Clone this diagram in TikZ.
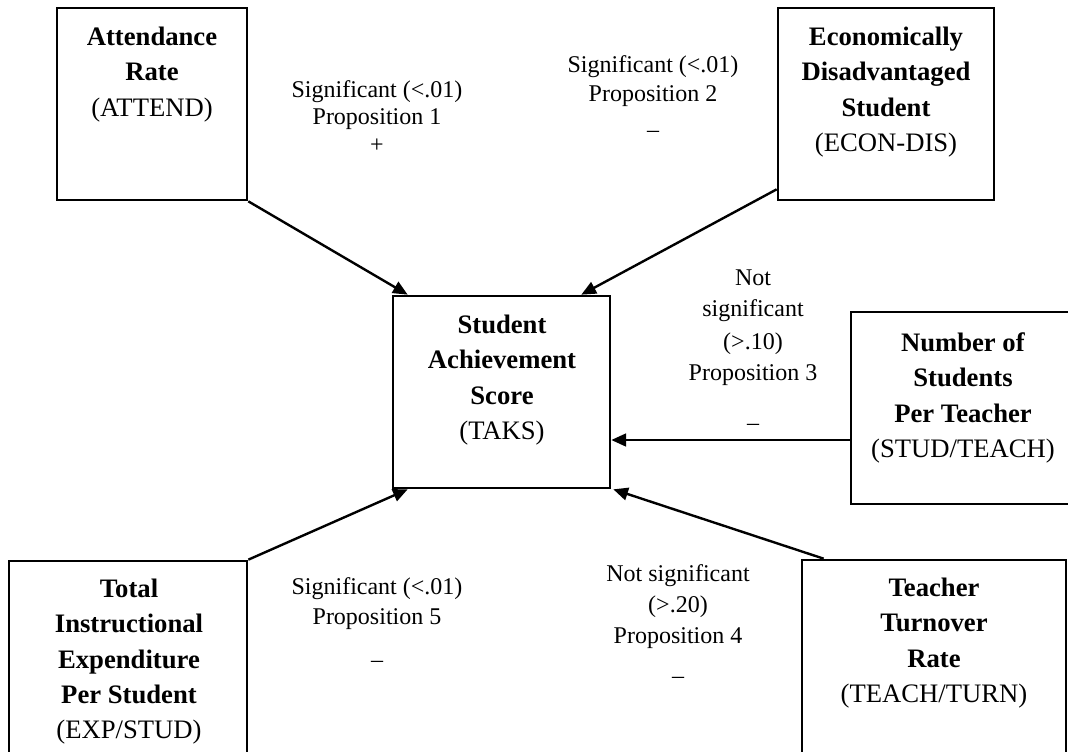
\documentclass[tikz,border=0pt]{standalone}
\usepackage{fontspec}
\setmainfont{Liberation Serif}
\usetikzlibrary{arrows.meta,fit,calc}
\begin{document}
\begin{tikzpicture}[x=0.75pt,y=-0.75pt,
  box/.style={draw, line width=2pt, inner sep=0pt},
  btxt/.style={anchor=north, align=center, inner sep=0pt, font=\fontsize{20}{26.6}\selectfont},
  lbl/.style={anchor=north, align=center, inner sep=0pt, font=\fontsize{18}{22.5}\selectfont},
  arr/.style={line width=1.8pt, -{Triangle[length=11pt,width=9.5pt]}}]
\useasboundingbox (0,0) rectangle (1068,751);
\clip (0,0) rectangle (1068,751);
% boxes
\node[box, fit={(57,8) (247,200)}] (A) {};
\node[box, fit={(778,8) (994,200)}] (E) {};
\node[box, fit={(393,296) (610,488)}] (C) {};
\node[box, fit={(851,312) (1076,504)}] (N) {};
\node[box, fit={(9,561) (247,762)}] (X) {};
\node[box, fit={(802,560) (1066,762)}] (T) {};
% box texts
\node[btxt] (At) at (152,20) {\strut\textbf{Attendance}\\\textbf{Rate}\\(ATTEND)};
\node[btxt] (Et) at (886,20) {\strut\textbf{Economically}\\\textbf{Disadvantaged}\\\textbf{Student}\\(ECON-DIS)};
\node[btxt] (Ct) at (502,308) {\strut\textbf{Student}\\\textbf{Achievement}\\\textbf{Score}\\(TAKS)};
\node[btxt] (Nt) at (963,326) {\strut\textbf{Number of}\\\textbf{Students}\\\textbf{Per Teacher}\\(STUD/TEACH)};
\node[btxt] (Xt) at (129,572) {\strut\textbf{Total}\\\textbf{Instructional}\\\textbf{Expenditure}\\\textbf{Per Student}\\(EXP/STUD)};
\node[btxt] (Tt) at (934,571) {\strut\textbf{Teacher}\\\textbf{Turnover}\\\textbf{Rate}\\(TEACH/TURN)};
% labels
\node[lbl] (L1) at (377,76) {\strut Significant (<.01)\\[-2.25pt]Proposition 1\\[-1.5pt]+};
\node[lbl] (L2) at (653,51) {\strut Significant (<.01)\\[-0.75pt]Proposition 2\\[4.5pt]–};
\node[lbl] (L3) at (753,264) {\strut Not\\[1pt]significant\\[2.5pt](>.10)\\[0.75pt]Proposition 3\\[15pt]–};
\node[lbl] (L4) at (678,560) {\strut Not significant\\[0.75pt](>.20)\\[0.75pt]Proposition 4\\[8pt]–};
\node[lbl] (L5) at (377,573) {\strut Significant (<.01)\\Proposition 5\\[10pt]–};
% connectors
\coordinate (n1) at ($(N.west)+(0,32)$);
\draw[arr] (A.south east) -- ($(C.north west)+(16,0)$);
\draw[arr] ($(E.south west)+(0,-12)$) -- ($(C.north east)+(-30,0)$);
\draw[arr] (n1) -- (n1 -| C.east);
\draw[arr] ($(T.north west)+(23,0)$) -- ($(C.south east)+(2,0)$);
\draw[arr] (X.north east) -- ($(C.south west)+(16,0)$);
\end{tikzpicture}
\end{document}
